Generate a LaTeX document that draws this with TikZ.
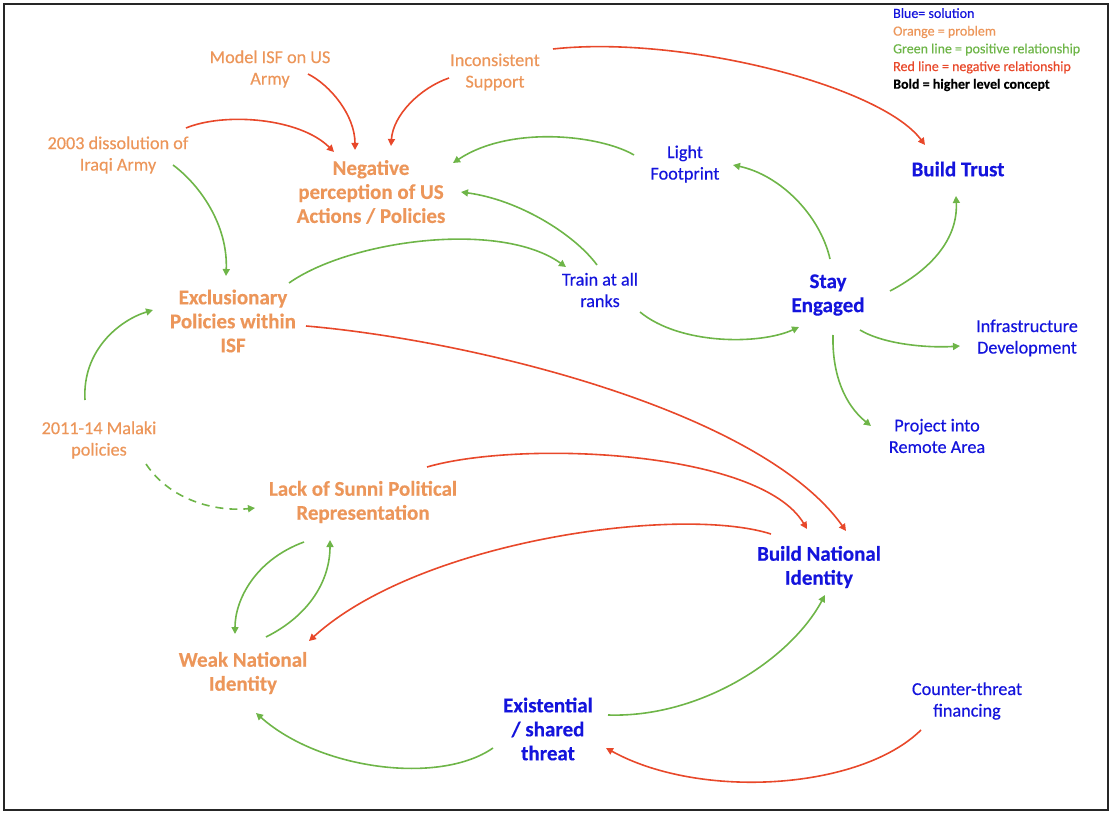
\documentclass[tikz,border=0pt]{standalone}
\usepackage{fontspec}
\setmainfont{Carlito}[UprightFeatures={FakeBold=0.4},BoldFeatures={FakeBold=0.3}]
\usetikzlibrary{arrows.meta}
\definecolor{org}{RGB}{236,150,90}
\definecolor{blu}{RGB}{20,20,220}
\definecolor{grn}{RGB}{110,181,72}
\definecolor{rd}{RGB}{232,72,42}
\begin{document}
\begin{tikzpicture}[x=1pt,y=-1pt,
  prob/.style={text=org,align=center,inner sep=0pt,font=\fontsize{18.2}{21.5}\selectfont},
  probB/.style={text=org,align=center,inner sep=0pt,font=\fontsize{21}{24}\selectfont\bfseries},
  sol/.style={text=blu,align=center,inner sep=0pt,font=\fontsize{18.2}{21.5}\selectfont},
  solB/.style={text=blu,align=center,inner sep=0pt,font=\fontsize{21}{24}\selectfont\bfseries},
  legend/.style={align=left,inner sep=0pt,anchor=north west,font=\fontsize{14}{17.7}\selectfont},
  posarr/.style={draw=grn,line width=1.6pt,-{Triangle[length=7pt,width=7pt]}},
  negarr/.style={draw=rd,line width=1.6pt,-{Triangle[length=7pt,width=7pt]}}
]
\useasboundingbox (0,0) rectangle (1114,818);
\draw[line width=2pt,draw=black!85] (4,4) rectangle (1108,810);

\node[legend] (leg) at (893,8) {\textcolor{blu}{Blue= solution}\\
\textcolor{org}{Orange = problem}\\
\textcolor{grn}{Green line = positive relationship}\\
\textcolor{rd}{Red line = negative relationship}\\
\textbf{Bold = higher level concept}};

\node[prob] (model) at (270,69) {Model ISF on US\\Army};
\node[prob] (incons) at (495,72) {Inconsistent\\Support};
\node[prob] (diss) at (118,155) {2003 dissolution of\\Iraqi Army};
\node[probB] (neg) at (371,192) {Negative\\perception of US\\Actions / Policies};
\node[sol] (light) at (685,164) {Light\\Footprint};
\node[solB] (trust) at (958,169) {Build Trust};
\node[probB] (excl) at (233,321) {Exclusionary\\Policies within\\ISF};
\node[sol] (train) at (600,290) {Train at all\\ranks};
\node[solB] (stay) at (828,295) {Stay\\Engaged};
\node[sol] (infra) at (1027,338) {Infrastructure\\Development};
\node[sol] (proj) at (937,436) {Project into\\Remote Area};
\node[prob] (malaki) at (99,440) {2011-14 Malaki\\policies};
\node[probB] (sunni) at (363,502) {Lack of Sunni Political\\Representation};
\node[solB] (bni) at (819,567) {Build National\\Identity};
\node[probB] (weak) at (243,673) {Weak National\\Identity};
\node[solB] (exist) at (548,729) {Existential\\/ shared\\threat};
\node[sol] (counter) at (967,701) {Counter-threat\\financing};

% red
\draw[negarr] ([shift={(38,5)}]model.center) .. controls (330,85) and (355,115) .. ([shift={(-16,-42)}]neg.center);
\draw[negarr] ([shift={(-46,6)}]incons.center) .. controls (420,88) and (393,115) .. ([shift={(20,-46)}]neg.center);
\draw[negarr] ([shift={(68,-27)}]diss.center) .. controls (225,112) and (300,118) .. ([shift={(-37,-40)}]neg.center);
\draw[negarr] ([shift={(58,-23)}]incons.center) .. controls (680,35) and (880,85) .. ([shift={(-33,-24)}]trust.center);
\draw[negarr] ([shift={(73,5)}]excl.center) .. controls (470,340) and (760,410) .. ([shift={(27,-36)}]bni.center);
\draw[negarr] ([shift={(64,-35)}]sunni.center) .. controls (520,440) and (760,450) .. ([shift={(-12,-38)}]bni.center);
\draw[negarr] ([shift={(-48,-33)}]bni.center) .. controls (680,505) and (420,540) .. ([shift={(66,-32)}]weak.center);
\draw[negarr] ([shift={(-46,29)}]counter.center) .. controls (860,790) and (700,800) .. ([shift={(58,19)}]exist.center);

% green
\draw[posarr] ([shift={(55,10)}]diss.center) .. controls (200,185) and (228,225) .. ([shift={(-7,-45)}]excl.center);
\draw[posarr] ([shift={(56,-38)}]excl.center) .. controls (350,240) and (500,220) .. ([shift={(-34,-23)}]train.center);
\draw[posarr] ([shift={(-3,-25)}]train.center) .. controls (575,235) and (520,200) .. ([shift={(90,0)}]neg.center);
\draw[posarr] ([shift={(-51,-9)}]light.center) .. controls (600,135) and (510,125) .. ([shift={(82,-29)}]neg.center);
\draw[posarr] ([shift={(2,-36)}]stay.center) .. controls (820,215) and (780,175) .. ([shift={(48,1)}]light.center);
\draw[posarr] ([shift={(62,-4)}]stay.center) .. controls (930,270) and (958,240) .. ([shift={(-2,27)}]trust.center);
\draw[posarr] ([shift={(40,22)}]train.center) .. controls (680,345) and (760,345) .. ([shift={(-29,32)}]stay.center);
\draw[posarr] ([shift={(32,35)}]stay.center) .. controls (885,345) and (930,348) .. ([shift={(-67,8)}]infra.center);
\draw[posarr] ([shift={(5,40)}]stay.center) .. controls (832,375) and (845,405) .. ([shift={(-66,-10)}]proj.center);
\draw[posarr] ([shift={(-14,-40)}]malaki.center) .. controls (82,350) and (120,320) .. ([shift={(-80,-11)}]excl.center);
\draw[posarr,dash pattern=on 8pt off 6pt] ([shift={(47,24)}]malaki.center) .. controls (170,500) and (215,512) .. ([shift={(-108,6)}]sunni.center);
\draw[posarr] ([shift={(-59,40)}]sunni.center) .. controls (255,560) and (235,600) .. ([shift={(-8,-39)}]weak.center);
\draw[posarr] ([shift={(23,-36)}]weak.center) .. controls (310,615) and (330,580) .. ([shift={(-33,38)}]sunni.center);
\draw[posarr] ([shift={(-55,19)}]exist.center) .. controls (440,785) and (320,770) .. ([shift={(13,40)}]weak.center);
\draw[posarr] ([shift={(60,-14)}]exist.center) .. controls (700,718) and (790,660) .. ([shift={(6,28)}]bni.center);
\end{tikzpicture}
\end{document}
